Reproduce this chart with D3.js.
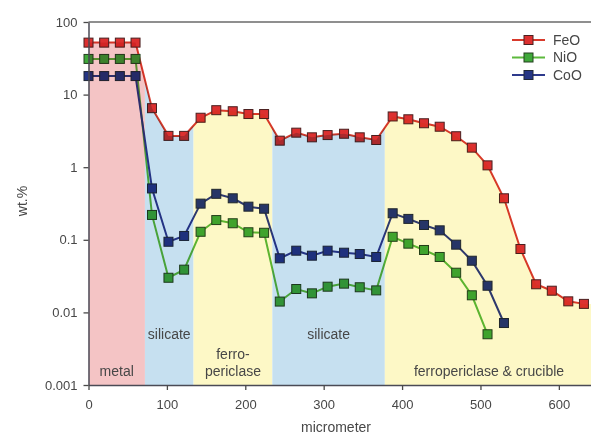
<!DOCTYPE html>
<html><head><meta charset="utf-8">
<script src="https://cdn.jsdelivr.net/npm/d3@7/dist/d3.min.js"></script>
<style>body{margin:0;background:#fff}svg{display:block}text{font-family:"Liberation Sans",Arial,sans-serif}</style>
</head><body>
<svg id="c" width="591" height="442"></svg>
<script>
// ---- data ----
const xPos = [0,20,40,60,81,102,122,143,163,184,204,224,244,265,285,305,326,346,367,388,408,428,448,469,489,509,530,551,571,591,612,632];
const FeO = [52,52,52,52,6.5,2.7,2.7,4.8,6.1,5.9,5.4,5.4,2.32,2.99,2.58,2.77,2.89,2.58,2.37,5.0,4.57,4.03,3.61,2.67,1.86,1.06,0.373,0.0747,0.0244,0.0199,0.0142,0.0131];
const NiO = [31,31,31,31,0.22,0.030,0.0388,0.129,0.187,0.169,0.127,0.125,0.0141,0.021,0.0183,0.0226,0.0249,0.0222,0.0201,0.110,0.0885,0.0724,0.058,0.0352,0.0172,0.005];
const CoO = [18,18,18,18,0.51,0.094,0.113,0.315,0.43,0.373,0.286,0.268,0.0556,0.0708,0.0604,0.0708,0.0664,0.0637,0.058,0.232,0.194,0.160,0.135,0.0857,0.0515,0.0233,0.00714];
const zoneBounds = [0,72,134,234.5,378,641];
const zoneNames = ["metal","silicate","ferropericlase","silicate","ferropericlase & crucible"];
const yTicks = [0.001,0.01,0.1,1,10,100];
const yTickLabels = ["0.001","0.01","0.1","1","10","100"];
const xTicks = [0,100,200,300,400,500,600];
const seriesNames = ["FeO","NiO","CoO"];

// ---- chart ----
const svg = d3.select("#c");
const x = d3.scaleLinear().domain([0,641]).range([88.5,591]);
const y = d3.scaleLog().domain([0.001,100]).range([385,22]);

const zoneFill = ["#f4c4c5","#c6e0f0","#fdf8c6","#c6e0f0","#fdf8c6"];
const zoneLabelLines = [["metal"],["silicate"],["ferro-","periclase"],["silicate"],["ferropericlase & crucible"]];
const zoneLabelY = [[371],[334],[354,371],[334],[371]];

// area under FeO
const feoPts = xPos.map((d,i)=>[d,FeO[i]]);
feoPts.push([641, FeO[FeO.length-1]]);
const area = d3.area().x(d=>x(d[0])).y0(y(0.001)).y1(d=>y(d[1]));
svg.append("clipPath").attr("id","under").append("path").attr("d",area(feoPts));

const zg = svg.append("g").attr("clip-path","url(#under)");
zoneNames.forEach((n,i)=>{
  zg.append("rect").attr("x",x(zoneBounds[i])).attr("width",x(zoneBounds[i+1])-x(zoneBounds[i]))
    .attr("y",y(100)).attr("height",y(0.001)-y(100)).attr("fill",zoneFill[i]);
});

// zone labels
zoneNames.forEach((n,i)=>{
  let cx = (x(zoneBounds[i])+x(zoneBounds[i+1]))/2;
  if(i===4) cx = 489;
  zoneLabelLines[i].forEach((t,j)=>{
    svg.append("text").attr("x",cx).attr("y",zoneLabelY[i][j]).attr("dy","0.35em")
      .attr("text-anchor","middle").attr("font-size",14).attr("fill","#474747").text(t);
  });
});

// series
const lineCol = {FeO:"#d83a2c",NiO:"#5db93d",CoO:"#2e3a8c"};
const markCol = {FeO:"#dc3030",NiO:"#3fa83a",CoO:"#263685"};
const markStroke = {FeO:"#4a2020",NiO:"#24401f",CoO:"#202838"};
const dataMap = {FeO,NiO,CoO};
const sg = svg.append("g").style("mix-blend-mode","multiply");
const line = d3.line().x(d=>x(d[0])).y(d=>y(d[1]));
seriesNames.forEach(s=>{
  const pts = dataMap[s].map((v,i)=>[xPos[i],v]);
  sg.append("path").attr("d",line(pts)).attr("fill","none").attr("stroke",lineCol[s]).attr("stroke-width",2);
});
seriesNames.forEach(s=>{
  const pts = dataMap[s].map((v,i)=>[xPos[i],v]);
  sg.selectAll(null).data(pts).enter().append("rect")
    .attr("x",d=>x(d[0])-4.5).attr("y",d=>y(d[1])-4.5).attr("width",9).attr("height",9)
    .attr("fill",markCol[s]).attr("stroke",markStroke[s]).attr("stroke-width",1);
});

// frame
svg.append("line").attr("x1",88.5).attr("x2",591).attr("y1",22).attr("y2",22).attr("stroke","#6a6a6a").attr("stroke-width",1.5);

// axes
const ya = d3.axisLeft(y).tickValues(yTicks).tickFormat((d,i)=>yTickLabels[i]).tickSize(5).tickSizeOuter(0).tickPadding(6);
const gy = svg.append("g").attr("transform","translate(88.5,0)").call(ya);
const xa = d3.axisBottom(x).tickValues(xTicks).tickFormat(d3.format("d")).tickSize(5).tickSizeOuter(0).tickPadding(10);
const gx = svg.append("g").attr("transform","translate(0,385)").call(xa);
[gx,gy].forEach(g=>{
  g.select(".domain").attr("stroke","#4a4a55").attr("stroke-width",1.5);
  g.selectAll(".tick line").attr("stroke","#4a4a4a").attr("stroke-width",1.3);
  g.selectAll("text").attr("font-size",13).attr("fill","#474747").attr("font-family","Liberation Sans, Arial, sans-serif");
});

// axis titles
svg.append("text").attr("x",336).attr("y",427).attr("dy","0.35em").attr("text-anchor","middle")
  .attr("font-size",14).attr("fill","#474747").text("micrometer");
svg.append("text").attr("transform","translate(22,201) rotate(-90)").attr("dy","0.35em").attr("text-anchor","middle")
  .attr("font-size",14).attr("fill","#474747").text("wt.%");

// legend
const lg = svg.append("g");
seriesNames.forEach((s,i)=>{
  const ly = 40 + i*17.5;
  lg.append("line").attr("x1",512).attr("x2",545).attr("y1",ly).attr("y2",ly).attr("stroke",lineCol[s]).attr("stroke-width",2);
  lg.append("rect").attr("x",528.5-4.5).attr("y",ly-4.5).attr("width",9).attr("height",9)
    .attr("fill",markCol[s]).attr("stroke",markStroke[s]).attr("stroke-width",1);
  lg.append("text").attr("x",553).attr("y",ly).attr("dy","0.35em").attr("font-size",14).attr("fill","#474747").text(s);
});
</script>
</body></html>
